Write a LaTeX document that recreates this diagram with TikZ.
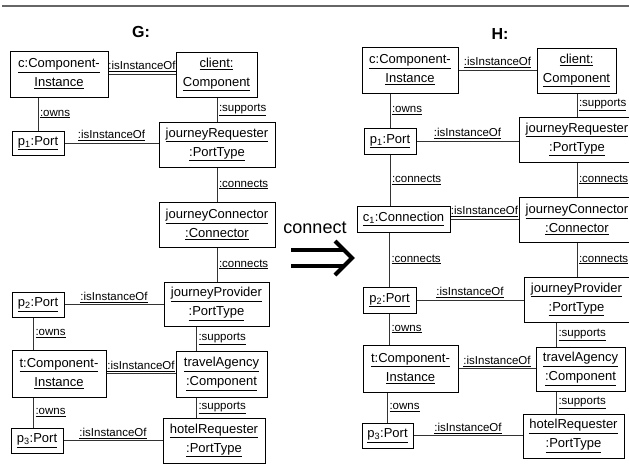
\documentclass[tikz,border=0pt]{standalone}
\usepackage{fontspec}
\setmainfont{Liberation Sans}
\begin{document}
\begin{tikzpicture}[x=1pt,y=-1pt,
  obj/.style={draw=black, line width=1pt, inner sep=0pt, align=center,
    font=\fontsize{13}{19}\selectfont},
  conn/.style={line width=1pt, draw=black!80},
  lab/.style={font=\fontsize{11.5}{13}\selectfont, inner sep=1.5pt},
  ttl/.style={font=\fontsize{16}{18}\selectfont\bfseries, inner sep=0pt},
  rule/.style={line width=2pt, draw=black!60}]
\useasboundingbox (0,0) rectangle (629,464);
\clip (0,0) rectangle (629,464);

% top rule
\coordinate (topL) at (2,6);
\coordinate (topR) at (629,6);
\draw[rule] (topL) -- (topR);

% titles
\node[ttl] (tG) at (141,32) {G:};
\node[ttl] (tH) at (500,34) {H:};

% ---------------- G ----------------
\node[obj, minimum width=98, minimum height=46] (gc) at (59,74) {\underline{c:Component-}\\\underline{Instance}};
\node[obj, minimum width=81, minimum height=45] (gclient) at (216.5,74.5) {\underline{client:}\\\underline{Component}};
\node[obj, minimum width=52, minimum height=24] (gp1) at (38,143) {\underline{p\textsubscript{1}:Port}};
\node[obj, minimum width=116, minimum height=45] (gjR) at (217,144.5) {\underline{journeyRequester}\\\underline{:PortType}};
\node[obj, minimum width=116, minimum height=45] (gjC) at (217,224.5) {\underline{journeyConnector}\\\underline{:Connector}};
\node[obj, minimum width=105, minimum height=44] (gjP) at (216.5,304) {\underline{journeyProvider}\\\underline{:PortType}};
\node[obj, minimum width=52, minimum height=25] (gp2) at (38,304.5) {\underline{p\textsubscript{2}:Port}};
\node[obj, minimum width=94, minimum height=47] (gt) at (59,373.5) {\underline{t:Component-}\\\underline{Instance}};
\node[obj, minimum width=91, minimum height=46] (gtA) at (221.5,374) {\underline{travelAgency}\\\underline{:Component}};
\node[obj, minimum width=52, minimum height=25] (gp3) at (37,440.5) {\underline{p\textsubscript{3}:Port}};
\node[obj, minimum width=102, minimum height=45] (ghR) at (214,440.5) {\underline{hotelRequester}\\\underline{:PortType}};

\draw[conn] (gc.east) -- (gc.east -| gclient.west) node[lab, midway, above] {\underline{:isInstanceOf}};
\draw[conn] (gp1.north) -- (gp1.north |- gc.south) node[lab, midway, right] {\underline{:owns}};
\draw[conn] (gjR.north) -- (gjR.north |- gclient.south) node[lab, midway, right] {\underline{:supports}};
\draw[conn] (gp1.east) -- (gp1.east -| gjR.west) node[lab, midway, above] {\underline{:isInstanceOf}};
\draw[conn] (gjR.south) -- (gjC.north) node[lab, midway, right] {\underline{:connects}};
\draw[conn] (gjC.south) -- (gjC.south |- gjP.north) node[lab, midway, right] {\underline{:connects}};
\draw[conn] (gp2.east) -- (gp2.east -| gjP.west) node[lab, midway, above] {\underline{:isInstanceOf}};
\coordinate (gtx) at ([xshift=22pt]gt.north west);
\coordinate (gtxs) at ([xshift=22pt]gt.south west);
\draw[conn] (gtx) -- (gtx |- gp2.south) node[lab, midway, right] {\underline{:owns}};
\coordinate (gax) at ([xshift=21pt]gtA.north west);
\coordinate (gaxs) at ([xshift=21pt]gtA.south west);
\draw[conn] (gax) -- (gax |- gjP.south) node[lab, midway, right] {\underline{:supports}};
\draw[conn] (gt.east) -- (gt.east -| gtA.west) node[lab, midway, above] {\underline{:isInstanceOf}};
\draw[conn] (gtxs) -- (gtxs |- gp3.north) node[lab, midway, right] {\underline{:owns}};
\draw[conn] (gaxs) -- (gaxs |- ghR.north) node[lab, midway, right] {\underline{:supports}};
\draw[conn] (gp3.east) -- (gp3.east -| ghR.west) node[lab, midway, above] {\underline{:isInstanceOf}};

% ---------------- transformation ----------------
\node[font=\fontsize{18}{20}\selectfont, inner sep=0pt] (cn) at (315,228) {connect};
\coordinate (arrS) at (291,258);
\coordinate (arrE) at (352,258);
\draw[line width=4pt, double=white, double distance=12pt] (arrS) -- ([xshift=-8pt]arrE);
\draw[line width=4pt, line join=miter] ([shift={(-17,-17)}]arrE) -- (arrE) -- ([shift={(-17,17)}]arrE);

% ---------------- H ----------------
\node[obj, minimum width=96, minimum height=46] (hc) at (410,70) {\underline{c:Component-}\\\underline{Instance}};
\node[obj, minimum width=79, minimum height=45] (hclient) at (576.5,70.5) {\underline{client:}\\\underline{Component}};
\node[obj, minimum width=52, minimum height=26] (hp1) at (390,141) {\underline{p\textsubscript{1}:Port}};
\node[obj, minimum width=116, minimum height=45] (hjR) at (577,139.5) {\underline{journeyRequester}\\\underline{:PortType}};
\node[obj, minimum width=93, minimum height=26] (hc1) at (403.5,219) {\underline{c\textsubscript{1}:Connection}};
\node[obj, minimum width=116, minimum height=45] (hjC) at (577,219.5) {\underline{journeyConnector}\\\underline{:Connector}};
\node[obj, minimum width=53, minimum height=26] (hp2) at (389.5,300) {\underline{p\textsubscript{2}:Port}};
\node[obj, minimum width=105, minimum height=45] (hjP) at (576.5,299.5) {\underline{journeyProvider}\\\underline{:PortType}};
\node[obj, minimum width=95, minimum height=47] (ht) at (410.5,368.5) {\underline{t:Component-}\\\underline{Instance}};
\node[obj, minimum width=89, minimum height=44] (htA) at (580.5,369) {\underline{travelAgency}\\\underline{:Component}};
\node[obj, minimum width=51, minimum height=25] (hp3) at (387.5,435.5) {\underline{p\textsubscript{3}:Port}};
\node[obj, minimum width=101, minimum height=44] (hhR) at (573.5,436) {\underline{hotelRequester}\\\underline{:PortType}};

\draw[conn] (hc.east) -- (hc.east -| hclient.west) node[lab, midway, above] {\underline{:isInstanceOf}};
\draw[conn] (hp1.north) -- (hp1.north |- hc.south) node[lab, midway, right] {\underline{:owns}};
\draw[conn] (hjR.north) -- (hjR.north |- hclient.south) node[lab, midway, right] {\underline{:supports}};
\draw[conn] (hp1.east) -- (hp1.east -| hjR.west) node[lab, midway, above] {\underline{:isInstanceOf}};
\draw[conn] (hp1.south) -- (hp1.south |- hc1.north) node[lab, midway, right] {\underline{:connects}};
\draw[conn] (hc1.east) -- (hc1.east -| hjC.west) node[lab, midway, above] {\underline{:isInstanceOf}};
\draw[conn] (hjR.south) -- (hjC.north) node[lab, midway, right] {\underline{:connects}};
\draw[conn] (hp2.north) -- (hp2.north |- hc1.south) node[lab, midway, right] {\underline{:connects}};
\draw[conn] (hjC.south) -- (hjC.south |- hjP.north) node[lab, midway, right] {\underline{:connects}};
\draw[conn] (hp2.east) -- (hp2.east -| hjP.west) node[lab, midway, above] {\underline{:isInstanceOf}};
\draw[conn] (hp2.south) -- (hp2.south |- ht.north) node[lab, midway, right] {\underline{:owns}};
\coordinate (hax) at ([xshift=21pt]htA.north west);
\coordinate (haxs) at ([xshift=21pt]htA.south west);
\draw[conn] (hax) -- (hax |- hjP.south) node[lab, midway, right] {\underline{:supports}};
\draw[conn] (ht.east) -- (ht.east -| htA.west) node[lab, midway, above] {\underline{:isInstanceOf}};
\draw[conn] (hp3.north) -- (hp3.north |- ht.south) node[lab, midway, right] {\underline{:owns}};
\draw[conn] (haxs) -- (haxs |- hhR.north) node[lab, midway, right] {\underline{:supports}};
\draw[conn] (hp3.east) -- (hp3.east -| hhR.west) node[lab, midway, above] {\underline{:isInstanceOf}};
\end{tikzpicture}
\end{document}
